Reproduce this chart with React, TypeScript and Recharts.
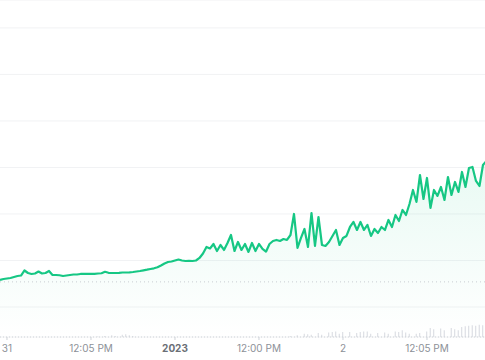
import {
  ComposedChart,
  Area,
  Bar,
  XAxis,
  YAxis,
  CartesianGrid,
  ReferenceLine,
} from "recharts";

// hours since Dec 31 00:00, sampled every 30 min
const START_HOUR = -1;
const STEP_HOURS = 0.5;

const prices = [
  15.81, 16.02, 16.13, 16.24, 16.45, 16.67, 16.77, 17.85, 17.31, 17.10,
  17.20, 17.63, 17.20, 17.31, 17.74, 16.88, 16.88, 16.82, 16.67, 16.77,
  16.88, 16.99, 16.99, 17.10, 17.10, 17.10, 17.14, 17.14, 17.20, 17.25,
  17.57, 17.35, 17.31, 17.31, 17.35, 17.42, 17.42, 17.46, 17.53, 17.63,
  17.74, 17.89, 18.02, 18.17, 18.32, 18.54, 18.92, 19.35, 19.68, 19.78,
  20.00, 20.21, 20.00, 19.89, 19.93, 19.89, 20.00, 20.54, 21.50, 22.90,
  22.58, 23.55, 22.04, 23.33, 22.26, 23.76, 25.48, 22.04, 23.98, 22.26,
  23.55, 21.83, 23.76, 22.04, 23.55, 22.47, 21.89, 23.55, 24.19, 24.41,
  24.19, 24.62, 24.41, 25.48, 30.00, 22.69, 24.84, 26.77, 22.90, 30.21,
  23.12, 29.35, 23.33, 23.12, 23.98, 25.27, 26.56, 23.33, 24.84, 25.27,
  27.20, 28.28, 26.56, 28.28, 26.56, 27.63, 25.27, 26.77, 25.91, 27.20,
  26.56, 28.71, 27.20, 29.78, 28.49, 30.86, 29.78, 32.15, 35.16, 32.58,
  38.38, 33.22, 37.74, 31.29, 35.16, 33.87, 35.80, 33.01, 37.95, 34.08,
  36.88, 34.73, 39.03, 35.80, 39.89, 40.10, 37.09, 36.02, 40.53, 41.39,
];

const volumes = [
  0, 0, 0, 0, 0, 0, 0, 0, 0, 0,
  0, 0, 0, 0, 0, 0, 0, 0, 0, 0,
  0, 0, 0, 0, 0, 0, 0, 0, 0.05, 0,
  0.1, 0, 0.15, 0.1, 0, 0.2, 0.25, 0.15, 0.1, 0,
  0, 0, 0, 0, 0, 0, 0, 0, 0, 0,
  0, 0, 0, 0, 0, 0, 0, 0, 0, 0,
  0, 0, 0, 0, 0, 0, 0, 0, 0, 0,
  0, 0, 0, 0, 0, 0, 0, 0, 0, 0,
  0, 0, 0, 0.1, 0, 0.15, 0, 0.3, 0.25, 0.2,
  0, 0.35, 0.2, 0, 0.4, 0.45, 0.5, 0.3, 0.45, 0,
  0.45, 0, 0.35, 0.45, 0.5, 0.5, 0.3, 0, 0.35, 0,
  0.4, 0.3, 0, 0.5, 0.45, 0.6, 0.4, 0.3, 0, 0.3,
  0.35, 0, 0.5, 0.8, 0.7, 0, 0.75, 0.6, 0, 0.8,
  0.7, 0.6, 0.9, 0.95, 1.0, 1.05, 1.0, 1.1, 1.05, 0.9,
];

const tickHours = [0, 12, 24, 36, 48, 60];
const tickLabels = ["31", "12:05 PM", "2023", "12:00 PM", "2", "12:05 PM"];
const boldLabels = ["2023"];
const priceTicks = [10, 20, 30, 40, 50, 60, 70];
const openPrice = 15.4;

const GREEN = "#16c784";

const data = prices.map((p, i) => ({
  t: START_HOUR + i * STEP_HOURS,
  price: p,
  vol: volumes[i],
}));

function TimeTick({ x, y, payload }: any) {
  const idx = tickHours.indexOf(payload.value);
  const label = tickLabels[idx] ?? "";
  const bold = boldLabels.includes(label);
  return (
    <text
      x={x}
      y={y}
      dy="0.71em"
      textAnchor="middle"
      fontFamily="Inter, 'Noto Sans', sans-serif"
      fontSize={10}
      fontWeight={bold ? 700 : 400}
      fill={bold ? "#6b6f76" : "#8d9198"}
    >
      {label}
    </text>
  );
}

export default function App() {
  return (
    <div style={{ position: "absolute", left: 0, top: 0, background: "#fff" }}>
      <ComposedChart
        width={485}
        height={360}
        data={data}
        margin={{ top: 0, right: 0, bottom: 0, left: 0 }}
      >
        <defs>
          <linearGradient id="priceFill" x1="0" y1="0" x2="0" y2="1">
            <stop offset="0%" stopColor={GREEN} stopOpacity={0.16} />
            <stop offset="100%" stopColor={GREEN} stopOpacity={0} />
          </linearGradient>
        </defs>
        <CartesianGrid
          yAxisId="price"
          vertical={false}
          stroke="#f1f2f4"
        />
        <XAxis
          type="number"
          dataKey="t"
          domain={[-1, 68.29]}
          allowDataOverflow
          ticks={tickHours}
          tick={<TimeTick />}
          tickSize={3}
          tickMargin={5}
          height={23}
          axisLine={{ stroke: "#cfd3d9", strokeDasharray: "1 2" }}
          tickLine={{ stroke: "#cfd3d9" }}
        />
        <YAxis
          yAxisId="price"
          hide
          type="number"
          domain={[3.55, 76]}
          ticks={priceTicks}
          allowDataOverflow
        />
        <YAxis yAxisId="vol" hide type="number" domain={[0, 30]} />
        <ReferenceLine
          yAxisId="price"
          y={openPrice}
          stroke="#c9cdd3"
          strokeDasharray="1 3"
        />
        <Bar
          yAxisId="vol"
          dataKey="vol"
          fill="#d6d9df"
          barSize={1}
          isAnimationActive={false}
        />
        <Area
          yAxisId="price"
          type="linear"
          dataKey="price"
          stroke={GREEN}
          strokeWidth={2.2}
          strokeLinejoin="round"
          fill="url(#priceFill)"
          dot={false}
          activeDot={false}
          isAnimationActive={false}
        />
      </ComposedChart>
    </div>
  );
}
